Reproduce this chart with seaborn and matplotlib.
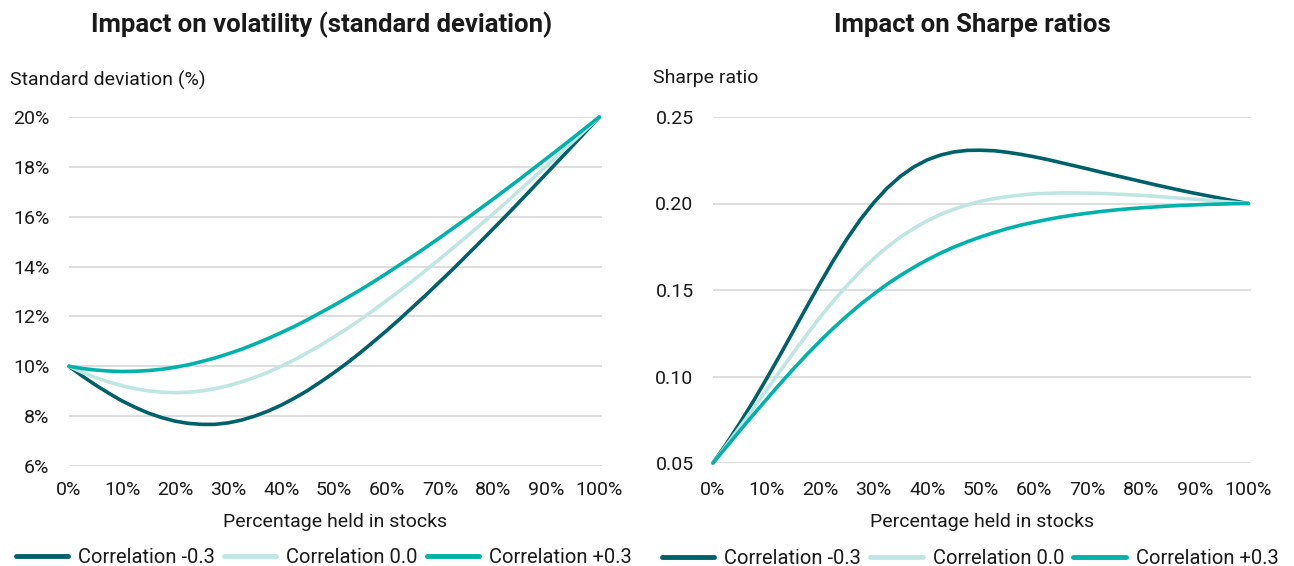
import matplotlib
matplotlib.use('Agg')
import matplotlib.pyplot as plt
import seaborn as sns
import pandas as pd
from matplotlib.ticker import FuncFormatter

# Share of the portfolio held in stocks (%)
stocks_pct = [0, 2.5, 5, 7.5, 10, 12.5, 15, 17.5, 20, 22.5, 25, 27.5, 30, 32.5,
              35, 37.5, 40, 42.5, 45, 47.5, 50, 52.5, 55, 57.5, 60, 62.5, 65,
              67.5, 70, 72.5, 75, 77.5, 80, 82.5, 85, 87.5, 90, 92.5, 95, 97.5, 100]

# Standard deviation (%)
sd_neg = [10.00, 9.61, 9.25, 8.92, 8.61, 8.35, 8.12, 7.94, 7.80, 7.71, 7.67, 7.67, 7.73, 7.84,
          8.00, 8.20, 8.44, 8.72, 9.03, 9.38, 9.75, 10.14, 10.56, 11.00, 11.45, 11.92, 12.41,
          12.90, 13.41, 13.92, 14.45, 14.98, 15.52, 16.06, 16.61, 17.17, 17.73, 18.29, 18.86,
          19.43, 20.00]
sd_zero = [10.00, 9.76, 9.55, 9.37, 9.22, 9.10, 9.01, 8.96, 8.94, 8.96, 9.01, 9.10, 9.22, 9.37,
           9.55, 9.76, 10.00, 10.26, 10.55, 10.85, 11.18, 11.52, 11.88, 12.26, 12.65, 13.05,
           13.46, 13.89, 14.32, 14.76, 15.21, 15.66, 16.12, 16.59, 17.07, 17.55, 18.03, 18.52,
           19.01, 19.50, 20.00]
sd_pos = [10.00, 9.91, 9.85, 9.81, 9.79, 9.80, 9.83, 9.88, 9.96, 10.06, 10.19, 10.33, 10.50,
          10.68, 10.89, 11.11, 11.35, 11.60, 11.87, 12.16, 12.45, 12.76, 13.07, 13.40, 13.74,
          14.09, 14.44, 14.80, 15.17, 15.55, 15.93, 16.32, 16.71, 17.11, 17.51, 17.92, 18.33,
          18.74, 19.16, 19.58, 20.00]

# Sharpe ratios
sr_neg = [0.0500, 0.0611, 0.0730, 0.0855, 0.0987, 0.1123, 0.1262, 0.1402, 0.1539, 0.1671,
          0.1794, 0.1906, 0.2004, 0.2088, 0.2157, 0.2211, 0.2252, 0.2280, 0.2298, 0.2307,
          0.2308, 0.2305, 0.2296, 0.2284, 0.2270, 0.2254, 0.2236, 0.2218, 0.2200, 0.2181,
          0.2163, 0.2145, 0.2127, 0.2109, 0.2092, 0.2075, 0.2059, 0.2044, 0.2029, 0.2014, 0.2000]
sr_zero = [0.0500, 0.0602, 0.0707, 0.0814, 0.0922, 0.1030, 0.1137, 0.1241, 0.1342, 0.1437,
           0.1525, 0.1607, 0.1681, 0.1747, 0.1806, 0.1856, 0.1900, 0.1937, 0.1967, 0.1992,
           0.2013, 0.2028, 0.2040, 0.2049, 0.2056, 0.2059, 0.2061, 0.2061, 0.2060, 0.2058,
           0.2055, 0.2051, 0.2047, 0.2042, 0.2036, 0.2030, 0.2025, 0.2019, 0.2012, 0.2006, 0.2000]
sr_pos = [0.0500, 0.0593, 0.0686, 0.0778, 0.0868, 0.0957, 0.1043, 0.1126, 0.1205, 0.1280,
          0.1350, 0.1416, 0.1476, 0.1533, 0.1584, 0.1631, 0.1674, 0.1713, 0.1748, 0.1779,
          0.1807, 0.1832, 0.1855, 0.1875, 0.1892, 0.1908, 0.1922, 0.1934, 0.1944, 0.1954,
          0.1962, 0.1969, 0.1975, 0.1980, 0.1985, 0.1989, 0.1992, 0.1995, 0.1997, 0.1999, 0.2000]

series_names = ['Correlation -0.3', 'Correlation 0.0', 'Correlation +0.3']
colors = ['#00616A', '#BFE6E2', '#00B2A9']

x_ticks = [0, 10, 20, 30, 40, 50, 60, 70, 80, 90, 100]
sd_ticks = [6, 8, 10, 12, 14, 16, 18, 20]
sr_ticks = [0.05, 0.10, 0.15, 0.20, 0.25]


def long_frame(values):
    rows = []
    for name, vals in zip(series_names, values):
        for x, v in zip(stocks_pct, vals):
            rows.append({'stocks': x, 'value': v, 'series': name})
    return pd.DataFrame(rows)


sns.set_theme(style='white')
plt.rcParams['font.family'] = ['Roboto', 'DejaVu Sans']
plt.rcParams['text.color'] = '#1a1a1a'

fig = plt.figure(figsize=(12.94, 5.66), dpi=100)
ax1 = fig.add_axes([69 / 1294, 100 / 566, 533 / 1294, 349 / 566])
ax2 = fig.add_axes([713 / 1294, 103 / 566, 538 / 1294, 346 / 566])

panels = [
    (ax1, long_frame([sd_neg, sd_zero, sd_pos]), sd_ticks, (6, 20), -0.262),
    (ax2, long_frame([sr_neg, sr_zero, sr_pos]), sr_ticks, (0.05, 0.25), -0.276),
]

for ax, df, yticks, ylim, leg_y in panels:
    sns.lineplot(data=df, x='stocks', y='value', hue='series', palette=colors,
                 linewidth=2.6, ax=ax, clip_on=False, zorder=3)
    ax.set_xlim(0, 100.5)
    ax.set_ylim(*ylim)
    ax.set_xticks(x_ticks)
    ax.set_yticks(yticks)
    ax.xaxis.set_major_formatter(FuncFormatter(lambda v, p: f'{v:.0f}%'))
    for s in ax.spines.values():
        s.set_visible(False)
    ax.grid(axis='y', color='#D4D4D4', linewidth=1.1)
    ax.grid(axis='x', visible=False)
    ax.set_xlabel('Percentage held in stocks', fontsize=14, labelpad=10, color='#1a1a1a')
    ax.set_ylabel('')
    ax.tick_params(axis='both', labelsize=14, colors='#1a1a1a')
    ax.tick_params(axis='y', length=0, pad=14)
    leg = ax.legend(loc='center', bbox_to_anchor=(0.478, leg_y), ncol=3, frameon=False,
                    fontsize=14.5, handlelength=2.6, handletextpad=0.5, columnspacing=0.45)
    for line in leg.get_lines():
        line.set_linewidth(3.5)

ax1.yaxis.set_major_formatter(FuncFormatter(lambda v, p: f'{v:.0f}%'))
ax1.tick_params(axis='x', length=5, width=1, color='#C8C8C8', pad=6)
ax2.yaxis.set_major_formatter(FuncFormatter(lambda v, p: f'{v:.2f}'))
ax2.tick_params(axis='x', length=0, pad=13)

fig.text(322 / 1294, 1 - 25 / 566, 'Impact on volatility (standard deviation)',
         ha='center', va='center', fontsize=18.5, fontweight='bold')
fig.text(972 / 1294, 1 - 25 / 566, 'Impact on Sharpe ratios',
         ha='center', va='center', fontsize=18.5, fontweight='bold')
fig.text(10 / 1294, 1 - 80 / 566, 'Standard deviation (%)', ha='left', va='center', fontsize=14)
fig.text(653 / 1294, 1 - 78 / 566, 'Sharpe ratio', ha='left', va='center', fontsize=14)

fig.savefig('out.png', dpi=100)
